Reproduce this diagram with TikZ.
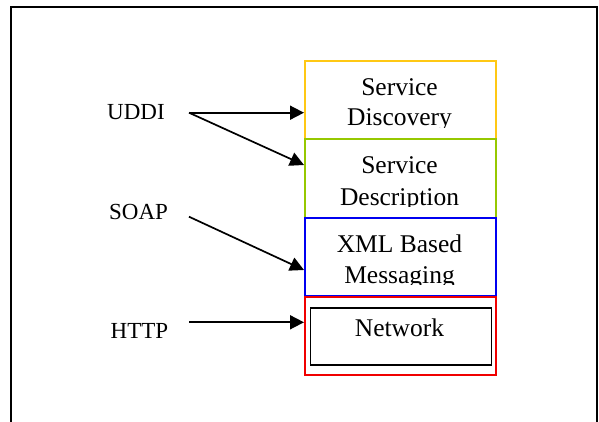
\documentclass[tikz,border=0pt]{standalone}
\usepackage{fontspec}
\setmainfont{Liberation Serif}
\usetikzlibrary{arrows.meta,calc}
\definecolor{lyellow}{RGB}{255,200,20}
\definecolor{lgreen}{RGB}{150,200,0}
\definecolor{lblue}{RGB}{0,0,240}
\definecolor{lred}{RGB}{240,0,0}
\begin{document}
\begin{tikzpicture}[x=1pt,y=-1pt,
  lbl/.style={font=\fontsize{23}{28}\selectfont, anchor=base west, inner sep=0pt},
  btxt/.style={font=\fontsize{25.5}{30}\selectfont, anchor=base, inner sep=0pt},
  layer/.style={draw=#1, line width=1.7pt, minimum width=191pt, minimum height=78pt, anchor=north west, inner sep=0pt},
  arr/.style={line width=1.7pt, -{Triangle[length=14pt,width=14pt]}}]
\useasboundingbox (0,0) rectangle (599,422);
\draw[line width=2.4pt] (11,430) -- (11,7) -- (597,7) -- (597,430);
% layers
\node[layer=lyellow] (disc) at (304,60) {};
\node[layer=lgreen] (desc) at (304,138.5) {};
\node[layer=lblue] (msg) at (304,217) {};
\node[layer=lred] (net) at (304,296) {};
\node[draw, line width=1.5pt, minimum width=181pt, minimum height=57pt, anchor=north west, inner sep=0pt] (netin) at (309.5,307) {};
% box texts (clipped like text frames)
\begin{scope}
\clip (304,61) rectangle (495,127.6);
\node[btxt] (t1) at (399.5,96) {Service};
\node[btxt] (t2) at (399.5,126) {Discovery};
\end{scope}
\begin{scope}
\clip (304,139) rectangle (495,206);
\node[btxt] (t3) at (399.5,174) {Service};
\node[btxt] (t4) at (399.5,205.3) {Description};
\end{scope}
\begin{scope}
\clip (304,218) rectangle (495,284.3);
\node[btxt] (t5) at (399.5,252.7) {XML Based};
\node[btxt] (t6) at (399.5,283.3) {Messaging};
\end{scope}
\node[btxt] (t7) at (399.5,336) {Network};
% labels
\node[lbl] (uddi) at (107,119.3) {UDDI};
\node[lbl] (soap) at (109,219) {SOAP};
\node[lbl] (http) at (110.5,338) {HTTP};
% connectors
\coordinate (u) at (189,112.7);
\coordinate (s) at (189,216.7);
\coordinate (h) at (189,322.3);
\draw[arr] (u) -- (u -| disc.west);
\draw[arr] (u) -- ($(desc.north west)+(0,26.5)$);
\draw[arr] (s) -- ($(msg.north west)+(0,53)$);
\draw[arr] (h) -- (h -| net.west);
\end{tikzpicture}
\end{document}
